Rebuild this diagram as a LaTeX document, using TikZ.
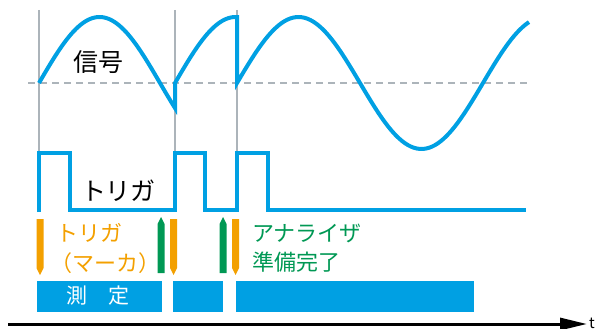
\documentclass[tikz,border=0pt]{standalone}
\usepackage{fontspec}
\setmainfont{Noto Sans CJK JP}
\usetikzlibrary{arrows.meta}
\definecolor{sigblue}{RGB}{0,160,227}
\definecolor{mkorange}{RGB}{243,160,0}
\definecolor{mkgreen}{RGB}{0,152,84}
\definecolor{guide}{RGB}{172,180,186}
\tikzset{
  sig/.style={draw=sigblue,line width=4pt,line join=miter},
  guideline/.style={draw=guide,line width=1.6pt},
  zeroline/.style={draw=guide,line width=2.5pt,dash pattern=on 7pt off 5pt},
  bar/.style={fill=sigblue},
  lbl/.style={inner sep=0pt,anchor=center},
}
\begin{document}
\begin{tikzpicture}[x=1pt,y=-1pt]
\useasboundingbox (0,0) rectangle (598,329);
% guide lines
\draw[guideline] (39,10) -- (39,153);
\draw[guideline] (175,10) -- (175,153);
\draw[guideline] (237,10) -- (237,153);
\draw[zeroline] (28,83) -- (530,83);
% signal
\draw[sig,line cap=butt]
  plot[domain=39:175,samples=60,smooth] (\x,{83-66*sin(1.48760*(\x-39))})
  -- (175,83)
  -- plot[domain=175:237,samples=30,smooth] (\x,{83-66*sin(1.48760*(\x-175))})
  -- (237,83)
  -- plot[domain=237:529,samples=100,smooth] (\x,{83-66*sin(1.46341*(\x-237))});
% trigger
\draw[sig] (39,212) -- (39,153) -- (70,153) -- (70,210) -- (175,210) -- (175,153)
  -- (205,153) -- (205,210) -- (237,210) -- (237,153) -- (268,153) -- (268,210) -- (526,210);
% labels
\node[lbl,font=\fontsize{25}{25}\selectfont] (sigl) at (98.5,62) {信号};
\node[lbl,font=\fontsize{25}{25}\selectfont] (trgl) at (118.5,191) {トリガ};
% markers
\foreach \c in {40,173.5,235.5}{
  \fill[mkorange] (\c-3.5,219) -- (\c+3.5,219) -- (\c+3.5,268) -- (\c,275) -- (\c-3.5,268) -- cycle;
}
\foreach \c in {161,223}{
  \fill[mkgreen] (\c,217) -- (\c+3.5,224) -- (\c+3.5,273) -- (\c-3.5,273) -- (\c-3.5,224) -- cycle;
}
\node[lbl,anchor=west,text=mkorange,font=\fontsize{22}{22}\selectfont] (mk1) at (56,233) {トリガ};
\node[lbl,anchor=west,text=mkorange,font=\fontsize{22}{22}\selectfont] (mk2) at (50,263) {（マーカ）};
\node[lbl,anchor=west,text=mkgreen,font=\fontsize{22}{22}\selectfont] (an1) at (252,233) {アナライザ};
\node[lbl,anchor=west,text=mkgreen,font=\fontsize{22}{22}\selectfont] (an2) at (252,262) {準備完了};
% bars
\fill[bar] (37,281) rectangle (162,312);
\fill[bar] (173,281) rectangle (223,312);
\fill[bar] (236,281) rectangle (474,312);
\node[lbl,text=white,font=\fontsize{21}{21}\selectfont] (meas) at (98,296) {測　定};
% axis
\coordinate (ax0) at (8,324);
\coordinate (ax1) at (587,324);
\draw[line width=3pt,-{Triangle[length=27pt,width=12pt]}] (ax0) -- (ax1);
\node[lbl,anchor=base,font=\fontsize{15}{15}\selectfont] (tl) at (592,328) {t};
\end{tikzpicture}
\end{document}
